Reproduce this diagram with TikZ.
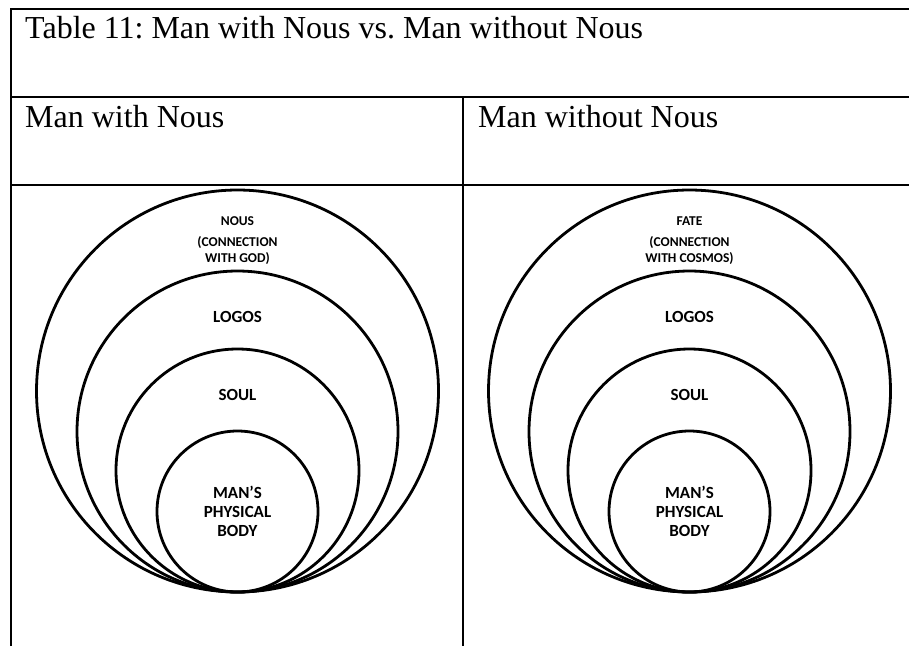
\documentclass[tikz,border=0pt]{standalone}
\usepackage{fontspec}
\setmainfont{Liberation Serif}
\newfontfamily\calibfont{Carlito}
\begin{document}
\frenchspacing
\begin{tikzpicture}[x=1pt,y=-1pt,
    ring/.style={draw,circle,line width=2.8pt,inner sep=0pt},
    lbl/.style={font=\calibfont\bfseries\fontsize{17}{19}\selectfont,align=center,inner sep=0pt},
    smalllbl/.style={font=\calibfont\bfseries\fontsize{13.5}{15.5}\selectfont,align=center,inner sep=0pt},
    head/.style={font=\fontsize{32}{38}\selectfont,anchor=base west,inner sep=0pt}]
  \useasboundingbox (0,0) rectangle (909,646);
  % table rules
  \draw[line width=2pt] (10.5,646) -- (10.5,9) -- (909,9);
  \draw[line width=2pt] (10.5,97) -- (909,97);
  \draw[line width=2pt] (10.5,185) -- (909,185);
  \draw[line width=1.8pt] (463,97) -- (463,646);
  \node[head] (title) at (25,38) {Table 11: Man with Nous vs. Man without Nous};
  \node[head] (withhead) at (25,127) {Man with Nous};
  \node[head] (withouthead) at (478,127) {Man without Nous};
  % man with nous
  \node[ring,minimum size=402pt] (nous) at (237.5,391) {};
  \node[ring,minimum size=321pt] (logosL) at (237.5,431.5) {};
  \node[ring,minimum size=243pt] (soulL) at (237.5,470.5) {};
  \node[ring,minimum size=161pt] (bodyL) at (237.5,511.5) {};
  \node[smalllbl] (nousname) at (237.5,221) {NOUS};
  \node[smalllbl] (nousnote) at (237.5,250.5) {(CONNECTION\\WITH GOD)};
  \node[lbl] (logosLname) at (237.5,317) {LOGOS};
  \node[lbl] (soulLname) at (237.5,395) {SOUL};
  \node[lbl] (bodyLname) at (237.5,511) {MAN’S\\PHYSICAL\\BODY};
  % man without nous
  \node[ring,minimum size=402pt] (fate) at (689.5,391) {};
  \node[ring,minimum size=321pt] (logosR) at (689.5,431.5) {};
  \node[ring,minimum size=243pt] (soulR) at (689.5,470.5) {};
  \node[ring,minimum size=161pt] (bodyR) at (689.5,511.5) {};
  \node[smalllbl] (fatename) at (689.5,221) {FATE};
  \node[smalllbl] (fatenote) at (689.5,250.5) {(CONNECTION\\WITH COSMOS)};
  \node[lbl] (logosRname) at (689.5,317) {LOGOS};
  \node[lbl] (soulRname) at (689.5,395) {SOUL};
  \node[lbl] (bodyRname) at (689.5,511) {MAN’S\\PHYSICAL\\BODY};
\end{tikzpicture}
\end{document}
